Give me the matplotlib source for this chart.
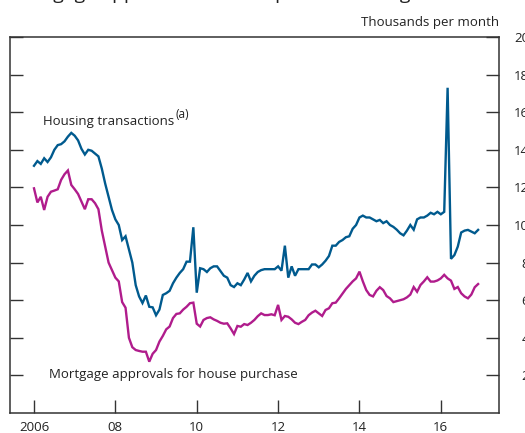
import numpy as np
import matplotlib
matplotlib.use('Agg')
from matplotlib import pyplot as plt

# monthly data, Jan 2006 onwards (thousands per month)
start_year = 2006
housing = [131.5, 134, 132.5, 135.5, 133.5, 136, 140, 142.5, 143, 144.5, 147, 149,
           147.5, 145, 140.5, 137.5, 140, 139.5, 138, 136.5, 130, 122, 115, 108,
           103, 100, 92, 94, 87, 80, 68, 62, 58.5, 62.5, 56.5, 56.2,
           52, 55, 62.8, 63.7, 65, 69, 72, 74.5, 76.5, 80.5, 80.5, 98.8,
           64, 77, 76.5, 75, 77, 78, 78, 75.5, 73, 72, 68, 67,
           69, 68, 71, 74.5, 70, 73, 75, 76, 76.5, 76.5, 76.5, 76.5,
           78, 75.7, 89, 72, 78, 73, 76.5, 76.5, 76.5, 76.5, 79, 79,
           77.5, 79, 81, 83.5, 89, 89, 91, 92, 93.5, 94, 98, 100,
           104, 105, 104, 104, 103, 102, 102.7, 101, 102, 100, 99, 97.5,
           95.6, 94.5, 97, 100, 97.5, 103, 104, 104, 105, 106.5, 105.7, 107,
           105.7, 107, 173, 82, 84, 88.5, 96, 97, 97.4, 96.5, 95.6, 97.4]
approvals = [119.5, 112, 115, 108, 115, 117.7, 118.3, 119, 124, 127, 129, 121.3,
             119, 116.5, 112.4, 108.4, 113.7, 113.7, 111.6, 108.4, 97, 88.5, 80, 76,
             72, 70, 59, 56, 40, 35, 33.5, 33, 32.6, 32.6, 27.3, 31.5,
             33.5, 38, 41, 44.5, 46, 50.5, 52.7, 53, 55, 56.5, 58.4, 58.7,
             47.5, 46, 49.5, 50.5, 50.9, 49.8, 49, 48, 47.5, 47.7, 45, 42,
             46.3, 45.9, 47.3, 46.8, 48, 49.5, 51.5, 53, 52.1, 52.1, 52.5, 52,
             57.5, 49.5, 51.6, 51.2, 49.8, 48, 47.3, 48.5, 49.5, 52, 53.4, 54.4,
             53, 51.6, 54.8, 55.7, 58.4, 58.7, 61, 63.5, 66, 68, 70, 71.6,
             75.2, 70, 65.4, 62.8, 62, 65, 66.9, 65.4, 62.2, 61, 59, 59.5,
             60, 60.5, 61.5, 63, 67, 64.5, 68.1, 70, 72.2, 69.9, 69.9, 70.5,
             71.6, 73.5, 71.6, 70.4, 66, 67, 63.7, 62, 61, 63, 66.9, 68.6]

xtick_years = [2006, 2008, 2010, 2012, 2014, 2016]
xtick_labels = ['2006', '08', '10', '12', '14', '16']
ytick_vals = [20, 40, 60, 80, 100, 120, 140, 160, 180, 200]

blue = '#005a8e'
magenta = '#b01c8c'
dark = '#333333'

plt.rcParams['font.family'] = ['Open Sans', 'DejaVu Sans']

x_h = start_year + np.arange(len(housing)) / 12.0
x_a = start_year + np.arange(len(approvals)) / 12.0

fig = plt.figure(figsize=(5.25, 4.33), dpi=100)
ax = fig.add_axes([10 / 525, 20 / 433, 489 / 525, 376 / 433])

ax.plot(x_h, housing, color=blue, lw=1.7, solid_joinstyle='miter')
ax.plot(x_a, approvals, color=magenta, lw=1.7, solid_joinstyle='miter')

ax.set_xlim(2005.41, 2017.43)
ax.set_ylim(0, 200)

ax.set_xticks(xtick_years)
ax.set_xticklabels(xtick_labels)
ax.set_yticks(ytick_vals)
ax.set_yticklabels([str(v) for v in ytick_vals])

ax.tick_params(axis='x', direction='in', length=9.5, width=1, color=dark,
               labelsize=9.5, labelcolor='#222222', pad=6)
# right-hand labels run off the edge of the image, as in the original
ax.tick_params(axis='y', direction='in', length=9.5, width=1, color=dark,
               left=True, right=True, labelleft=False, labelright=True,
               labelsize=9.5, labelcolor='#222222', pad=27)
for t in ax.yaxis.get_major_ticks():
    t.label2.set_horizontalalignment('right')

for s in ax.spines.values():
    s.set_color(dark)
    s.set_linewidth(1.1)

# labels
t1 = ax.text(2006.22, 153, 'Housing transactions', fontsize=9.5, color='#222222',
             va='baseline', ha='left')
fig.canvas.draw()
bb = t1.get_window_extent()
ax.annotate('(a)', xy=(bb.x1 + 1, bb.y0 + 10), xycoords='figure pixels',
            fontsize=8.5, color='#222222', va='baseline', ha='left')
ax.text(2006.38, 18.8, 'Mortgage approvals for house purchase', fontsize=9.5,
        color='#222222', va='baseline', ha='left')

fig.text(499 / 525, 1 - 26 / 433, 'Thousands per month', fontsize=9.5,
         color='#222222', ha='right', va='baseline')
# title, mostly cut off by the top edge
fig.text(9 / 525, 1 + 1 / 433, 'Mortgage approvals and completed housing transactions',
         fontsize=14, color='#222222', ha='left', va='baseline')

fig.savefig('out.png', dpi=100)
